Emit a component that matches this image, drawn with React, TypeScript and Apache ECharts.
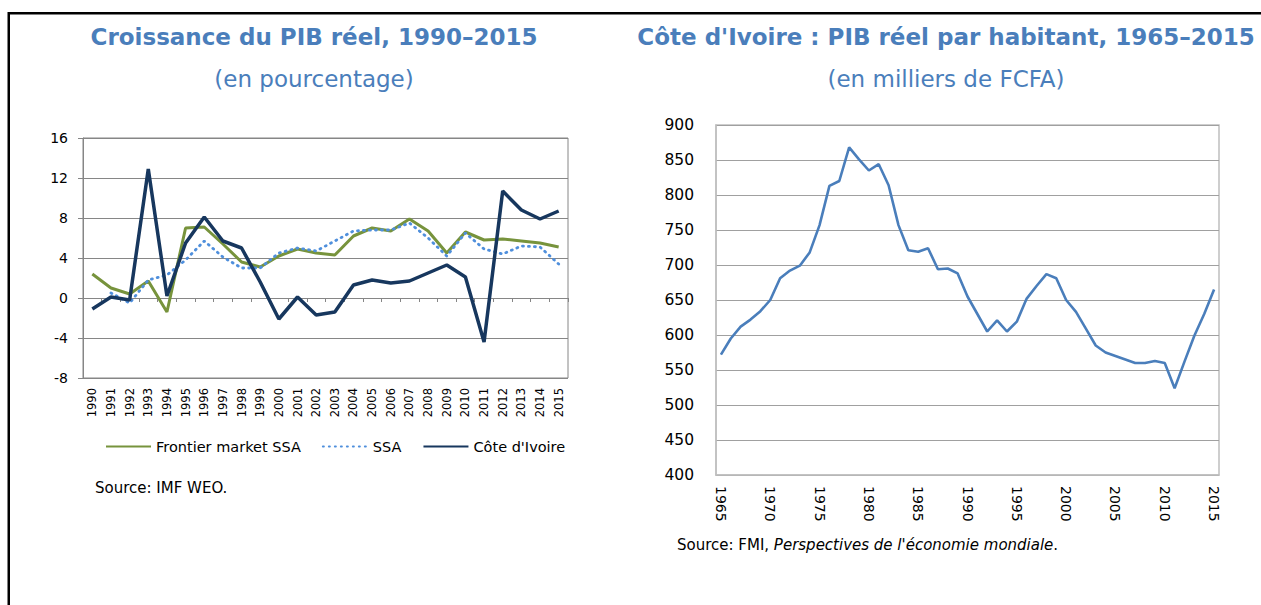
import React, { useEffect, useRef } from 'react';
import * as echarts from 'echarts';

const growthYears = ['1990','1991','1992','1993','1994','1995','1996','1997','1998','1999','2000','2001','2002','2003','2004','2005','2006','2007','2008','2009','2010','2011','2012','2013','2014','2015'];
const frontierSSA = [2.4, 1.0, 0.4, 1.7, -1.4, 7.0, 7.1, 5.4, 3.6, 3.1, 4.2, 4.9, 4.5, 4.3, 6.2, 7.0, 6.7, 7.9, 6.7, 4.5, 6.6, 5.8, 5.9, 5.7, 5.5, 5.1];
const ssaGrowth = [null, 0.5, -0.5, 1.8, 2.3, 3.8, 5.7, 4.1, 3.0, 3.0, 4.5, 5.0, 4.7, 5.7, 6.7, 6.8, 6.8, 7.5, 6.0, 4.2, 6.5, 4.9, 4.4, 5.2, 5.1, 3.4];
const civGrowth = [-1.1, 0.1, -0.2, 12.9, 0.2, 5.5, 8.1, 5.7, 5.0, 1.6, -2.1, 0.1, -1.7, -1.4, 1.3, 1.8, 1.5, 1.7, 2.5, 3.3, 2.1, -4.4, 10.7, 8.8, 7.9, 8.7];
const growthAxis = { min: -8, max: 16, interval: 4 };

const pcYears = ['1965','1966','1967','1968','1969','1970','1971','1972','1973','1974','1975','1976','1977','1978','1979','1980','1981','1982','1983','1984','1985','1986','1987','1988','1989','1990','1991','1992','1993','1994','1995','1996','1997','1998','1999','2000','2001','2002','2003','2004','2005','2006','2007','2008','2009','2010','2011','2012','2013','2014','2015'];
const pcGdp = [572, 595, 612, 622, 634, 650, 681, 692, 699, 718, 757, 813, 820, 868, 851, 835, 844, 814, 757, 721, 719, 724, 694, 695, 688, 655, 630, 605, 621, 605, 619, 652, 670, 687, 681, 650, 633, 609, 585, 575, 570, 565, 560, 560, 563, 560, 524, 562, 599, 630, 665];
const pcAxis = { min: 400, max: 900, interval: 50 };

const FONT = "'DejaVu Sans', 'Noto Sans', sans-serif";
const TITLE_COLOR = '#4A7EBB';

export default function App() {
  const ref = useRef<HTMLDivElement>(null);
  useEffect(() => {
    const chart = echarts.init(ref.current!, null, { renderer: 'svg' });
    chart.setOption({
      animation: false,
      backgroundColor: '#ffffff',
      textStyle: { fontFamily: FONT },
      grid: [
        { left: 83, top: 138, width: 485, height: 240, show: true, borderColor: '#868686', borderWidth: 1 },
        { left: 716, top: 125, width: 503, height: 350, show: true, borderColor: '#bfbfbf', borderWidth: 1.5 },
      ],
      legend: {
        left: 105,
        top: 439,
        padding: 0,
        itemWidth: 45,
        itemHeight: 14,
        itemGap: 21,
        itemStyle: { opacity: 0 },
        data: ['Frontier market SSA', 'SSA', "Côte d'Ivoire"],
        textStyle: { fontSize: 14.5, fontFamily: FONT, color: '#000' },
      },
      xAxis: [
        {
          type: 'category', gridIndex: 0, data: growthYears, boundaryGap: true,
          axisLine: { onZero: true, lineStyle: { color: '#868686', width: 1 } },
          axisTick: { show: true, length: 4, lineStyle: { color: '#868686' } },
          axisLabel: { interval: 0, rotate: 90, margin: 10, fontSize: 11.5, color: '#000', fontFamily: FONT },
        },
        {
          type: 'category', gridIndex: 1, data: pcYears, boundaryGap: true,
          axisLine: { lineStyle: { color: '#bfbfbf', width: 1.5 } },
          axisTick: { show: false },
          axisLabel: { interval: 4, rotate: -90, margin: 11, fontSize: 14, color: '#000', fontFamily: FONT },
        },
      ],
      yAxis: [
        {
          type: 'value', gridIndex: 0, min: growthAxis.min, max: growthAxis.max, interval: growthAxis.interval,
          axisLine: { show: true, lineStyle: { color: '#868686' } },
          axisTick: { show: true, length: 5, lineStyle: { color: '#868686' } },
          splitLine: { lineStyle: { color: '#868686', width: 1 } },
          axisLabel: { margin: 15, fontSize: 14, color: '#000', fontFamily: FONT },
        },
        {
          type: 'value', gridIndex: 1, min: pcAxis.min, max: pcAxis.max, interval: pcAxis.interval,
          axisLine: { show: true, lineStyle: { color: '#bfbfbf', width: 1.5 } },
          axisTick: { show: false },
          splitLine: { lineStyle: { color: '#a0a0a0', width: 1.2 } },
          axisLabel: { margin: 22, fontSize: 15.5, color: '#000', fontFamily: FONT },
        },
      ],
      series: [
        {
          name: 'Frontier market SSA', type: 'line', xAxisIndex: 0, yAxisIndex: 0, data: frontierSSA,
          symbol: 'none', color: '#77933C', lineStyle: { width: 3, color: '#77933C' },
        },
        {
          name: 'SSA', type: 'line', xAxisIndex: 0, yAxisIndex: 0, data: ssaGrowth,
          symbol: 'none', color: '#4F8FDC', lineStyle: { width: 2.8, color: '#4F8FDC', type: [1, 5], cap: 'round' },
        },
        {
          name: "Côte d'Ivoire", type: 'line', xAxisIndex: 0, yAxisIndex: 0, data: civGrowth,
          symbol: 'none', color: '#17375E', lineStyle: { width: 3.5, color: '#17375E' },
        },
        {
          name: 'PIB réel par habitant', type: 'line', xAxisIndex: 1, yAxisIndex: 1, data: pcGdp,
          symbol: 'none', color: '#4A7EBB', lineStyle: { width: 2.6, color: '#4A7EBB' },
        },
      ],
      graphic: [
        { type: 'rect', shape: { x: 8, y: 12, width: 1253, height: 2.5 }, style: { fill: '#000' } },
        { type: 'rect', shape: { x: 7.5, y: 12, width: 2.5, height: 593 }, style: { fill: '#000' } },
        {
          type: 'text', x: 314, y: 37,
          style: { text: 'Croissance du PIB réel, 1990–2015', font: `bold 23px ${FONT}`, fill: TITLE_COLOR, textAlign: 'center', textVerticalAlign: 'middle' },
        },
        {
          type: 'text', x: 314, y: 79,
          style: { text: '(en pourcentage)', font: `23px ${FONT}`, fill: TITLE_COLOR, textAlign: 'center', textVerticalAlign: 'middle' },
        },
        {
          type: 'text', x: 946, y: 37,
          style: { text: "Côte d'Ivoire : PIB réel par habitant, 1965–2015", font: `bold 23px ${FONT}`, fill: TITLE_COLOR, textAlign: 'center', textVerticalAlign: 'middle' },
        },
        {
          type: 'text', x: 946, y: 79,
          style: { text: '(en milliers de FCFA)', font: `23px ${FONT}`, fill: TITLE_COLOR, textAlign: 'center', textVerticalAlign: 'middle' },
        },
        {
          type: 'text', x: 95, y: 488,
          style: { text: 'Source: IMF WEO.', font: `15px ${FONT}`, fill: '#000', textAlign: 'left', textVerticalAlign: 'middle' },
        },
        {
          type: 'text', x: 677, y: 545,
          style: {
            text: "Source: FMI, {i|Perspectives de l'économie mondiale}.",
            font: `15px ${FONT}`, fill: '#000', textAlign: 'left', textVerticalAlign: 'middle',
            rich: { i: { fontStyle: 'italic', fontSize: 15, fontFamily: FONT, fill: '#000' } },
          },
        },
      ],
    });
    return () => chart.dispose();
  }, []);
  return (
    <div
      ref={ref}
      style={{ position: 'fixed', left: 0, top: 0, width: 1261, height: 605, background: '#fff' }}
    />
  );
}
